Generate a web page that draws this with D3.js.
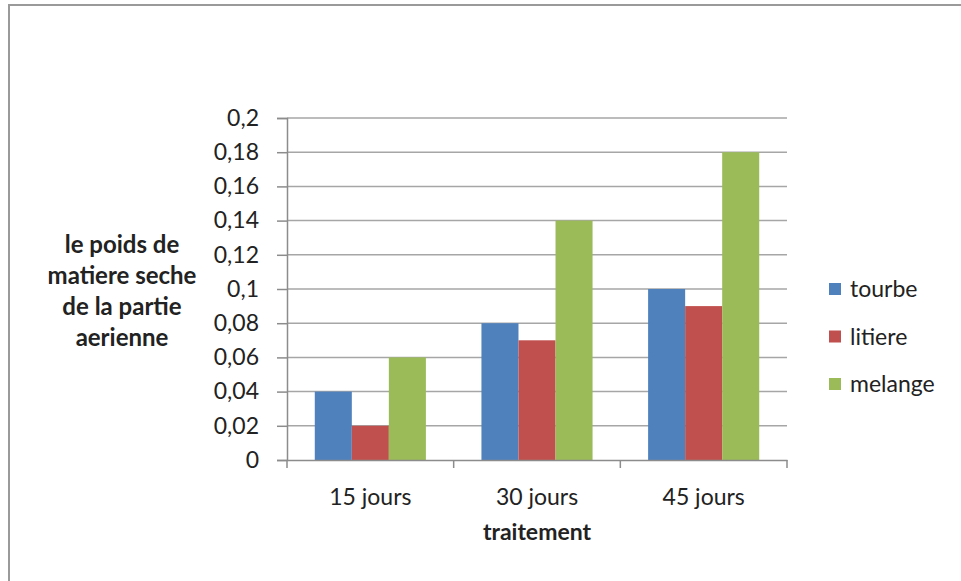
<!DOCTYPE html>
<html>
<head>
<meta charset="utf-8">
<script src="https://cdn.jsdelivr.net/npm/d3@7"></script>
<style>
  html, body { margin: 0; padding: 0; background: #fff; }
  svg { display: block; }
  text { font-family: Lato, "Open Sans", sans-serif; fill: #222; }
</style>
</head>
<body>
<svg id="chart" width="961" height="581"></svg>
<script>
// Dry matter weight of the aerial part, by treatment duration
const categories = ["15 jours", "30 jours", "45 jours"];
const seriesNames = ["tourbe", "litiere", "melange"];
const tourbe  = [0.04, 0.08, 0.10];
const litiere = [0.02, 0.07, 0.09];
const melange = [0.06, 0.14, 0.18];
const yTicks = [0, 0.02, 0.04, 0.06, 0.08, 0.1, 0.12, 0.14, 0.16, 0.18, 0.2];
const colors = ["#4f81bd", "#c0504d", "#9bbb59"];

const seriesValues = [tourbe, litiere, melange];
const FONT = 23;

const svg = d3.select("#chart");

// outer frame
svg.append("rect")
  .attr("x", 9).attr("y", 5)
  .attr("width", 970).attr("height", 600)
  .attr("fill", "none")
  .attr("stroke", "#9a9a9a")
  .attr("stroke-width", 2);

const plot = { left: 287, right: 787, top: 118, bottom: 460 };

const x = d3.scaleBand()
  .domain(categories)
  .range([plot.left, plot.right])
  .paddingInner(0).paddingOuter(0);

const y = d3.scaleLinear()
  .domain([0, 0.2])
  .range([plot.bottom, plot.top]);

// bars occupy 3/4.5 of each band (gap = 1.5 bar widths)
const barW = x.bandwidth() / 4.5;
const xs = d3.scaleBand()
  .domain(seriesNames)
  .range([0, barW * 3]);

// horizontal gridlines
svg.append("g")
  .selectAll("line")
  .data(yTicks.filter(d => d > 0))
  .join("line")
  .attr("x1", plot.left).attr("x2", plot.right)
  .attr("y1", d => y(d)).attr("y2", d => y(d))
  .attr("stroke", "#a6a6a6")
  .attr("stroke-width", 1.5);

// bars
const groups = svg.append("g")
  .selectAll("g")
  .data(categories)
  .join("g")
  .attr("transform", d => `translate(${x(d) + barW * 0.75},0)`);

groups.selectAll("rect")
  .data((c, i) => seriesNames.map((s, j) => ({ s, j, v: seriesValues[j][i] })))
  .join("rect")
  .attr("x", d => xs(d.s))
  .attr("width", xs.bandwidth())
  .attr("y", d => y(d.v))
  .attr("height", d => y(0) - y(d.v))
  .attr("fill", d => colors[d.j]);

const fmt = d => String(d).replace(".", ",");

// y axis
const yAxis = svg.append("g")
  .attr("transform", `translate(${plot.left},0)`)
  .call(d3.axisLeft(y).tickValues(yTicks).tickFormat(fmt).tickSize(10).tickPadding(18));
yAxis.select(".domain").attr("stroke", "#8c8c8c").attr("stroke-width", 1.5);
yAxis.selectAll(".tick line").attr("stroke", "#8c8c8c").attr("stroke-width", 1.5);
yAxis.selectAll(".tick text")
  .attr("font-size", FONT)
  .attr("font-family", "Lato, sans-serif")
  .attr("fill", "#222");

// x axis
const xAxis = svg.append("g")
  .attr("transform", `translate(0,${plot.bottom})`)
  .call(d3.axisBottom(x).tickSize(0).tickPadding(29));
xAxis.select(".domain").attr("stroke", "#8c8c8c").attr("stroke-width", 1.5);
xAxis.selectAll(".tick text")
  .attr("font-size", FONT)
  .attr("font-family", "Lato, sans-serif")
  .attr("fill", "#222");

// category boundary ticks
const bounds = categories.map(c => x(c)).concat([x(categories[categories.length - 1]) + x.bandwidth()]);
svg.append("g")
  .selectAll("line")
  .data(bounds)
  .join("line")
  .attr("x1", d => d).attr("x2", d => d)
  .attr("y1", plot.bottom).attr("y2", plot.bottom + 8)
  .attr("stroke", "#8c8c8c")
  .attr("stroke-width", 1.5);

// axis titles
svg.append("text")
  .attr("x", (plot.left + plot.right) / 2)
  .attr("y", 540)
  .attr("text-anchor", "middle")
  .attr("font-size", FONT)
  .attr("font-weight", "bold")
  .text("traitement");

const yTitle = ["le poids de", "matiere seche", "de la partie", "aerienne"];
svg.append("text")
  .attr("text-anchor", "middle")
  .attr("font-size", 24)
  .attr("font-weight", "bold")
  .selectAll("tspan")
  .data(yTitle)
  .join("tspan")
  .attr("x", 122)
  .attr("y", (d, i) => 253 + i * 31)
  .text(d => d);

// legend
const legend = svg.append("g")
  .selectAll("g")
  .data(seriesNames)
  .join("g")
  .attr("transform", (d, i) => `translate(829,${289 + i * 47.5})`);
legend.append("rect")
  .attr("x", 0).attr("y", -6)
  .attr("width", 12).attr("height", 12)
  .attr("fill", (d, i) => colors[i]);
legend.append("text")
  .attr("x", 21).attr("y", 0)
  .attr("dy", "0.35em")
  .attr("font-size", FONT)
  .text(d => d);
</script>
</body>
</html>
